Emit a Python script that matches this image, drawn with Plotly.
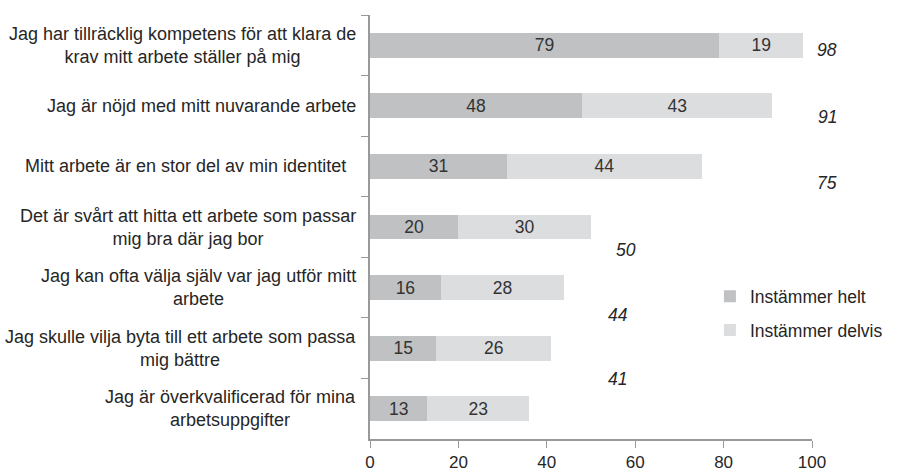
import plotly.graph_objects as go

categories = [
    "Jag har tillräcklig kompetens för att klara de<br>krav mitt arbete ställer på mig",
    "Jag är nöjd med mitt nuvarande arbete",
    "Mitt arbete är en stor del av min identitet&nbsp;&nbsp;",
    "Det är svårt att hitta ett arbete som passar<br>mig bra där jag bor",
    "Jag kan ofta välja själv var jag utför mitt<br>arbete",
    "Jag skulle vilja byta till ett arbete som passa<br>mig bättre",
    "Jag är överkvalificerad för mina<br>arbetsuppgifter",
]
helt = [79, 48, 31, 20, 16, 15, 13]
delvis = [19, 43, 44, 30, 28, 26, 23]
series_names = ["Instämmer helt", "Instämmer delvis"]
xticks = [0, 20, 40, 60, 80, 100]

totals = [a + b for a, b in zip(helt, delvis)]

# layout-only placement of the (shifted) italic total labels, as in the original
total_label_x = [103.5, 103.5, 103.5, 58, 56, 56]
total_label_dy = [4.5, 11.3, 17, 22.5, 27.5, 30.7]

FONT = "Liberation Sans, Arial, sans-serif"
TXT = "#262626"
DARK = "#c0c1c3"
LIGHT = "#dcdddf"
AX = "#999999"
FS = 17.5
XMAX = 100

ykeys = [f"c{i}" for i in range(len(categories))]

fig = go.Figure()
for vals, name, col, grp in [(helt, series_names[0], DARK, "a"), (delvis, series_names[1], LIGHT, "b")]:
    fig.add_trace(go.Bar(
        y=ykeys, x=vals, orientation="h", name=name,
        marker=dict(color=col, line=dict(width=0)),
        text=[str(v) for v in vals], textposition="inside", insidetextanchor="middle",
        textangle=0,
        textfont=dict(size=FS, color="#333333", family=FONT), constraintext="none",
        legendgroup=grp, hoverinfo="x+name",
    ))

annotations = []
for k, lab in zip(ykeys, categories):
    annotations.append(dict(
        x=0, xref="paper", y=k, yref="y", text=lab, showarrow=False,
        xanchor="right", yanchor="middle", align="center", xshift=-12,
        font=dict(size=18, color=TXT, family=FONT),
    ))
for i, (tx, dy) in enumerate(zip(total_label_x, total_label_dy)):
    annotations.append(dict(
        x=tx / XMAX, xref="paper", y=ykeys[i], yref="y", text=f"<i>{totals[i]}</i>",
        showarrow=False, xanchor="center", yanchor="middle", yshift=-dy,
        font=dict(size=FS, color=TXT, family=FONT),
    ))

fig.update_layout(
    width=900, height=475,
    margin=dict(l=370, r=88, t=15, b=36),
    barmode="stack", bargap=0.59,
    plot_bgcolor="white", paper_bgcolor="white",
    font=dict(family=FONT, size=FS, color=TXT),
    showlegend=True,
    legend=dict(
        x=0.769, y=0.379, xanchor="left", yanchor="top",
        traceorder="grouped", tracegroupgap=8,
        font=dict(size=FS, color=TXT, family=FONT),
        bgcolor="rgba(0,0,0,0)",
    ),
    annotations=annotations,
    xaxis=dict(
        range=[0, XMAX], tickvals=xticks, showgrid=False, zeroline=False,
        showline=True, linecolor=AX, linewidth=2, automargin=False,
        ticks="outside", ticklen=7, tickcolor=AX, tickwidth=1,
        tickfont=dict(size=17, color=TXT, family=FONT),
    ),
    yaxis=dict(
        categoryorder="array", categoryarray=ykeys, autorange="reversed",
        showticklabels=False, showgrid=False, zeroline=False, automargin=False,
        showline=True, linecolor=AX, linewidth=2,
        ticks="outside", ticklen=7, tickcolor=AX, tickwidth=1,
        tickson="boundaries",
    ),
)

fig.write_html("out.html", config={"displayModeBar": False})

# remove the browser's default 8px body margin so the figure sits at (0,0)
with open("out.html", "r", encoding="utf-8") as f:
    html = f.read()
html = html.replace("<head>", "<head><style>html,body{margin:0;padding:0;overflow:hidden;}</style>", 1)
with open("out.html", "w", encoding="utf-8") as f:
    f.write(html)
